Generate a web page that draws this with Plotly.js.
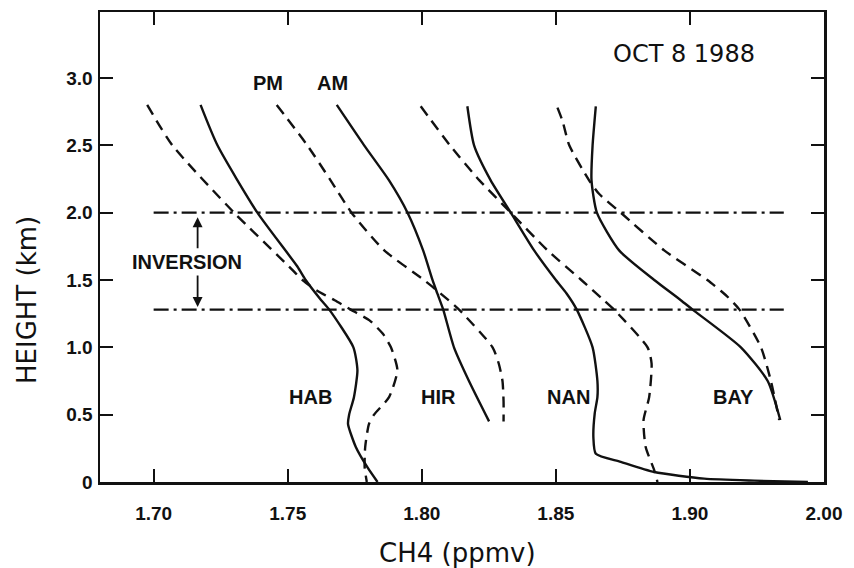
<!DOCTYPE html>
<html>
<head>
<meta charset="utf-8">
<script src="https://cdn.plot.ly/plotly-3.0.1.min.js"></script>
<style>html,body{margin:0;padding:0;background:#fff;} #chart{width:854px;height:568px;}</style>
</head>
<body>
<div id="chart"></div>
<script>
// CH4 (ppmv) profiles vs height (km), OCT 8 1988. AM = solid, PM = dashed.
var habAM_km  = [2.8, 2.5, 2.0, 1.6, 1.5, 1.35, 1.28, 1.0, 0.83, 0.63, 0.5, 0.43, 0.26, 0.11, 0];
var habAM_ch4 = [1.7175, 1.7238, 1.7387, 1.7536, 1.7567, 1.7625, 1.7655, 1.7745, 1.776, 1.7747, 1.7729, 1.7725, 1.7754, 1.7797, 1.7835];
var habPM_km  = [2.8, 2.5, 2.0, 1.6, 1.5, 1.42, 1.35, 1.28, 1.2, 1.1, 1.0, 0.83, 0.63, 0.5, 0.43, 0.26, 0.11, 0];
var habPM_ch4 = [1.6976, 1.707, 1.730, 1.7505, 1.7555, 1.761, 1.7675, 1.7735, 1.7805, 1.7855, 1.7885, 1.7909, 1.7878, 1.7822, 1.7803, 1.7789, 1.7787, 1.7795];

var hirAM_km  = [2.8, 2.5, 2.24, 2.0, 1.72, 1.5, 1.4, 1.28, 1.0, 0.75, 0.45];
var hirAM_ch4 = [1.7683, 1.7785, 1.7878, 1.7947, 1.8005, 1.804, 1.8058, 1.808, 1.812, 1.8176, 1.8251];
var hirPM_km  = [2.8, 2.5, 2.24, 2.0, 1.72, 1.5, 1.4, 1.28, 1.0, 0.88, 0.75, 0.6, 0.45];
var hirPM_ch4 = [1.7459, 1.7573, 1.766, 1.7738, 1.786, 1.8008, 1.807, 1.8139, 1.8264, 1.8287, 1.8301, 1.8305, 1.8305];

var nanAM_km  = [2.79, 2.5, 2.24, 2.0, 1.72, 1.5, 1.4, 1.28, 1.0, 0.75, 0.63, 0.51, 0.33, 0.21, 0.15, 0.074, 0.025, 0.01, 0];
var nanAM_ch4 = [1.817, 1.8195, 1.8257, 1.8332, 1.8419, 1.85, 1.854, 1.8578, 1.8637, 1.8655, 1.8655, 1.8645, 1.864, 1.8649, 1.8742, 1.8867, 1.9053, 1.924, 1.944];
var nanPM_km  = [2.79, 2.5, 2.24, 2.0, 1.72, 1.5, 1.35, 1.28, 1.0, 0.88, 0.63, 0.46, 0.26, 0.087, 0];
var nanPM_ch4 = [1.7996, 1.8105, 1.8215, 1.8332, 1.8469, 1.8595, 1.8679, 1.8717, 1.8842, 1.8857, 1.8848, 1.8827, 1.8835, 1.8867, 1.8879];

var bayAM_km  = [2.79, 2.5, 2.24, 2.0, 1.72, 1.5, 1.35, 1.28, 1.0, 0.75, 0.46];
var bayAM_ch4 = [1.8649, 1.8637, 1.8633, 1.8653, 1.8736, 1.8867, 1.8966, 1.901, 1.919, 1.929, 1.9337];
var bayPM_km  = [2.78, 2.68, 2.5, 2.24, 2.14, 2.0, 1.72, 1.5, 1.42, 1.37, 1.28, 1.0, 0.75, 0.46];
var bayPM_ch4 = [1.8506, 1.8525, 1.855, 1.8624, 1.8661, 1.8742, 1.8904, 1.9065, 1.9115, 1.9143, 1.9185, 1.9265, 1.9302, 1.9333];

// inversion layer bounds (km) and their drawn extent (ppmv)
var inversionLevels = [2.0, 1.28];
var inversionExtent = [1.70, 1.935];

// tick labels
var xTickVals = [1.70, 1.75, 1.80, 1.85, 1.90, 1.95];
var xTickText = ['1.70', '1.75', '1.80', '1.85', '1.90', '2.00'];
var yTickVals = [0, 0.5, 1.0, 1.5, 2.0, 2.5, 3.0];
var yTickText = ['0', '0.5', '1.0', '1.5', '2.0', '2.5', '3.0'];

// site labels
var siteNames = ['HAB', 'HIR', 'NAN', 'BAY'];
var siteLabelX = [1.7584, 1.8063, 1.8547, 1.9164];
var siteLabelY = 0.63;

var INK = '#111';
var solid = {color: INK, width: 2.4, shape: 'spline', smoothing: 0.6};
var dashed = {color: INK, width: 2.4, dash: '11px,7px', shape: 'spline', smoothing: 0.6};

function tr(x, y, line, name) {
  return {x: x, y: y, mode: 'lines', line: line, name: name, hoverinfo: 'skip', showlegend: false};
}

var traces = [
  tr(habAM_ch4, habAM_km, solid, 'HAB AM'),
  tr(habPM_ch4, habPM_km, dashed, 'HAB PM'),
  tr(hirAM_ch4, hirAM_km, solid, 'HIR AM'),
  tr(hirPM_ch4, hirPM_km, dashed, 'HIR PM'),
  tr(nanAM_ch4, nanAM_km, solid, 'NAN AM'),
  tr(nanPM_ch4, nanPM_km, dashed, 'NAN PM'),
  tr(bayAM_ch4, bayAM_km, solid, 'BAY AM'),
  tr(bayPM_ch4, bayPM_km, dashed, 'BAY PM')
];
inversionLevels.forEach(function (lev, i) {
  traces.push({x: inversionExtent, y: [lev, lev], mode: 'lines', hoverinfo: 'skip', showlegend: false,
    line: {color: INK, width: 2.4, dash: '15px,5px,3px,5px'}, name: 'inversion ' + i});
});

var boldFont = {family: 'Liberation Sans, Arial, sans-serif', size: 20, color: INK, weight: 'bold'};
var tickFont = {family: 'Liberation Sans, Arial, sans-serif', size: 19, color: INK, weight: 'bold'};
var plainFont = {family: 'DejaVu Sans, sans-serif', size: 26, color: INK};

var annotations = [
  {text: 'OCT 8 1988', x: 1.8977, y: 3.18, xref: 'x', yref: 'y', showarrow: false,
   font: {family: 'DejaVu Sans, sans-serif', size: 24, color: INK}},
  {text: 'PM', x: 1.7425, y: 2.965, xref: 'x', yref: 'y', showarrow: false, font: boldFont},
  {text: 'AM', x: 1.7668, y: 2.965, xref: 'x', yref: 'y', showarrow: false, font: boldFont},
  {text: 'INVERSION', x: 1.7123, y: 1.636, xref: 'x', yref: 'y', showarrow: false, font: boldFont},
  // inversion arrows
  {x: 1.7164, y: 1.965, ax: 1.7164, ay: 1.725, xref: 'x', yref: 'y', axref: 'x', ayref: 'y',
   text: '', showarrow: true, arrowhead: 2, arrowsize: 1.1, arrowwidth: 1.8, arrowcolor: INK},
  {x: 1.7164, y: 1.30, ax: 1.7164, ay: 1.545, xref: 'x', yref: 'y', axref: 'x', ayref: 'y',
   text: '', showarrow: true, arrowhead: 2, arrowsize: 1.1, arrowwidth: 1.8, arrowcolor: INK},
  // axis titles
  {text: 'HEIGHT (km)', xref: 'paper', yref: 'paper', x: (27 - 100) / 724, y: (482 - 300) / 470,
   textangle: -90, showarrow: false, font: plainFont, xanchor: 'center', yanchor: 'middle'},
  {text: 'CH4 (ppmv)', xref: 'paper', yref: 'paper', x: (457 - 100) / 724, y: (482 - 553) / 470,
   showarrow: false, font: plainFont, xanchor: 'center', yanchor: 'middle'}
];
siteNames.forEach(function (s, i) {
  annotations.push({text: s, x: siteLabelX[i], y: siteLabelY, xref: 'x', yref: 'y', showarrow: false, font: boldFont});
});

var axisCommon = {
  showline: true, linecolor: INK, linewidth: 2.5, mirror: 'ticks',
  ticks: 'inside', ticklen: 13, tickwidth: 2, tickcolor: INK,
  showgrid: false, zeroline: false, tickfont: tickFont, fixedrange: true
};

var layout = {
  width: 854, height: 568,
  margin: {l: 100, r: 30, t: 12, b: 86},
  paper_bgcolor: '#fff', plot_bgcolor: '#fff',
  showlegend: false,
  xaxis: Object.assign({}, axisCommon, {range: [1.68, 1.95], tickmode: 'array', tickvals: xTickVals, ticktext: xTickText, ticklabelstandoff: 13}),
  yaxis: Object.assign({}, axisCommon, {range: [0, 3.49], tickmode: 'array', tickvals: yTickVals, ticktext: yTickText, ticklabelstandoff: 1}),
  annotations: annotations
};

Plotly.newPlot('chart', traces, layout, {staticPlot: true, displayModeBar: false});
</script>
</body>
</html>
